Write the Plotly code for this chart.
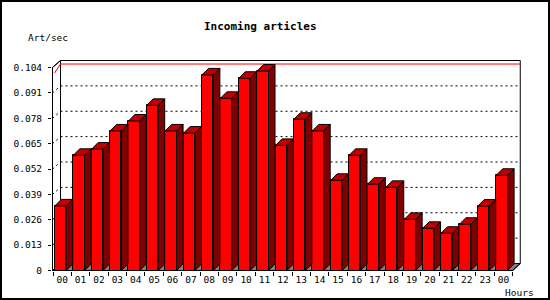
import plotly.graph_objects as go

# ---------------- data ----------------
hours = ['00', '01', '02', '03', '04', '05', '06', '07', '08', '09', '10', '11',
         '12', '13', '14', '15', '16', '17', '18', '19', '20', '21', '22', '23', '00']
art_per_sec = [0.0331, 0.0590, 0.0622, 0.0715, 0.0766, 0.0846, 0.0715, 0.0704,
               0.1002, 0.0882, 0.0985, 0.1022, 0.0641, 0.0775, 0.0715, 0.0462,
               0.0590, 0.0442, 0.0426, 0.0262, 0.0216, 0.0191, 0.0237, 0.0330, 0.0488]
y_tickvals = [0, 0.013, 0.026, 0.039, 0.052, 0.065, 0.078, 0.091, 0.104]
y_ticktext = ['0', '0.013', '0.026', '0.039', '0.052', '0.065', '0.078', '0.091', '0.104']
title_text = 'Incoming articles'
y_label = 'Art/sec'
x_label = 'Hours'

# ---------------- geometry (pixel layout) ----------------
W, H = 550, 300
PL, PR, PT, PB = 52, 522, 59, 271
SLOT_PX = 18.39          # px per hour slot
UNIT_PX = 1951.9         # px per art/sec
X0_PX = 53.0             # px position of x = -0.5
Y0_PX = 270.5            # px position of y = 0

def dx(px):
    return px / SLOT_PX

def dy(px):
    return px / UNIT_PX

xr = [-0.5 - dx(X0_PX - PL), -0.5 + dx(PR - X0_PX)]
yr = [-dy(PB - Y0_PX), dy(Y0_PX - PT)]

n = len(art_per_sec)
xs = list(range(n))
ytop = y_tickvals[-1]
wdx, wdy = dx(7.5), dy(7.0)      # wall depth
bdx, bdy = dx(6.5), dy(6.5)      # bar depth
b_off, b_w = -0.40, 0.62         # bar front face offset/width
xl = -0.5 - dx(0.5)              # front y-axis line
xrgt = n - 0.5                   # front right end

RED, SIDE, CAP, FLOOR = '#ff0000', '#800000', '#c00000', '#808080'
FONT = 'DejaVu Sans Mono'

shapes = []

def path(pts):
    return 'M ' + ' L '.join(f'{x},{y}' for x, y in pts) + ' Z'

# floor
shapes.append(dict(type='path', xref='x', yref='y', layer='below',
                   path=path([(xl, 0), (xrgt, 0), (xrgt + wdx, wdy), (-0.5 + wdx, wdy)]),
                   fillcolor=FLOOR, line=dict(color='black', width=1)))
# left wall
shapes.append(dict(type='path', xref='x', yref='y', layer='below',
                   path=path([(xl, 0), (xl, ytop), (-0.5 + wdx, ytop + wdy), (-0.5 + wdx, wdy)]),
                   fillcolor='white', line=dict(color='black', width=1)))
# back wall
shapes.append(dict(type='rect', xref='x', yref='y', layer='below',
                   x0=-0.5 + wdx, x1=xrgt + wdx, y0=wdy, y1=ytop + wdy,
                   fillcolor='white', line=dict(color='black', width=1)))
# dotted grid lines
for t in y_tickvals[1:-1]:
    shapes.append(dict(type='line', xref='x', yref='y', layer='below',
                       x0=-0.5 + wdx, x1=xrgt + wdx, y0=t + wdy, y1=t + wdy,
                       line=dict(color='black', width=1, dash='2px,3px')))
    shapes.append(dict(type='line', xref='x', yref='y', layer='below',
                       x0=xl, x1=-0.5 + wdx, y0=t, y1=t + wdy,
                       line=dict(color='black', width=1, dash='2px,3px')))
# max line
vmax = max(art_per_sec)
shapes.append(dict(type='path', xref='x', yref='y', layer='below',
                   path='M {},{} L {},{} L {},{}'.format(xl + dx(2), vmax - dy(2),
                                                        -0.5 + wdx, vmax + wdy,
                                                        xrgt + wdx, vmax + wdy),
                   line=dict(color=RED, width=1)))
# outer border
shapes.append(dict(type='rect', xref='paper', yref='paper',
                   x0=(1 - PL) / (PR - PL), x1=(W - 1 - PL) / (PR - PL),
                   y0=(PB - (H - 1)) / (PB - PT), y1=(PB - 1) / (PB - PT),
                   line=dict(color='black', width=2)))

fig = go.Figure()

# front faces
fig.add_trace(go.Bar(x=xs, y=art_per_sec, width=b_w, offset=b_off,
                     marker=dict(color=RED, line=dict(color='black', width=1)),
                     hoverinfo='skip'))

# side faces and caps
sx, sy, cx, cy = [], [], [], []
for x, v in zip(xs, art_per_sec):
    x0 = x + b_off
    x1 = x0 + b_w
    sx += [x1, x1 + bdx, x1 + bdx, x1, x1, None]
    sy += [0, bdy, v + bdy, v, 0, None]
    cx += [x0, x0 + bdx, x1 + bdx, x1, x0, None]
    cy += [v, v + bdy, v + bdy, v, v, None]
fig.add_trace(go.Scatter(x=sx, y=sy, mode='lines', fill='toself', fillcolor=SIDE,
                         line=dict(color='black', width=1), hoverinfo='skip'))
fig.add_trace(go.Scatter(x=cx, y=cy, mode='lines', fill='toself', fillcolor=CAP,
                         line=dict(color='black', width=1), hoverinfo='skip'))
# front axes lines
fig.add_trace(go.Scatter(x=[-0.5 + wdx, xl, xl, xrgt, xrgt + wdx],
                         y=[ytop + wdy, ytop, 0, 0, wdy], mode='lines',
                         line=dict(color='black', width=1), hoverinfo='skip'))

def px_to_paper(px, py):
    return (px - PL) / (PR - PL), (PB - py) / (PB - PT)

annotations = []
for text, (px, py), size, bold in [(title_text, (260, 26.7), 11, True),
                                   (y_label, (47.8, 37.3), 9.5, False),
                                   (x_label, (519.7, 292.2), 9.5, False)]:
    ax, ay = px_to_paper(px, py)
    annotations.append(dict(text=f'<b>{text}</b>' if bold else text,
                            x=ax, y=ay, xref='paper', yref='paper',
                            xanchor='center', yanchor='middle', showarrow=False,
                            font=dict(family=FONT, size=size, color='black')))

fig.update_layout(
    width=W, height=H,
    margin=dict(l=PL, r=W - PR, t=PT, b=H - PB, pad=0),
    paper_bgcolor='white', plot_bgcolor='white',
    showlegend=False,
    shapes=shapes, annotations=annotations,
    xaxis=dict(range=xr, showgrid=False, zeroline=False, showline=False,
               tickmode='array', tickvals=xs, ticktext=hours,
               ticks='outside', ticklen=4, tickcolor='rgba(0,0,0,0)',
               ticklabelstandoff=-4,
               tickfont=dict(family=FONT, size=9.5, color='black'),
               minor=dict(tickvals=[i - 0.5 for i in range(n + 1)], ticks='outside',
                          ticklen=4, tickcolor='black', showgrid=False)),
    yaxis=dict(range=yr, showgrid=False, zeroline=False, showline=False,
               tickmode='array', tickvals=y_tickvals, ticktext=y_ticktext,
               ticks='outside', ticklen=3, tickcolor='black',
               ticklabelstandoff=4,
               tickfont=dict(family=FONT, size=9.5, color='black')),
    bargap=0,
)

fig.write_html('out.html')
